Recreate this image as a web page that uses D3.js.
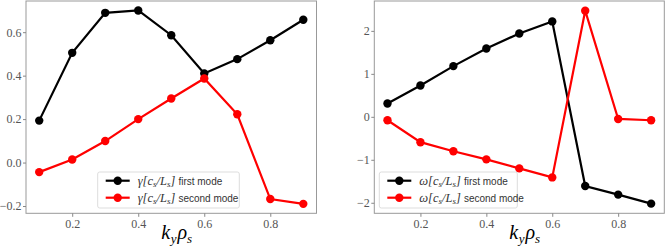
<!DOCTYPE html>
<html>
<head>
<meta charset="utf-8">
<script src="https://cdn.jsdelivr.net/npm/d3@7"></script>
<style>
  body { margin: 0; background: #fff; }
  svg { display: block; }
  .tick line { stroke: #888; }
  .domain { display: none; }
</style>
</head>
<body>
<script>
// Data
const ky = [0.1, 0.2, 0.3, 0.4, 0.5, 0.6, 0.7, 0.8, 0.9];
const gammaFirst = [0.193, 0.505, 0.689, 0.700, 0.586, 0.410, 0.476, 0.563, 0.657];
const gammaSecond = [-0.044, 0.014, 0.099, 0.200, 0.295, 0.387, 0.222, -0.168, -0.190];
const omegaFirst = [0.31, 0.73, 1.18, 1.59, 1.94, 2.22, -1.61, -1.81, -2.02];
const omegaSecond = [-0.08, -0.59, -0.80, -0.99, -1.20, -1.41, 2.47, -0.05, -0.08];

const xTicks = [0.2, 0.4, 0.6, 0.8];
const gammaTicks = [-0.2, 0.0, 0.2, 0.4, 0.6];
const omegaTicks = [-2, -1, 0, 1, 2];

const serif = '"Liberation Serif", "DejaVu Serif", serif';

const svg = d3.select('body')
  .append('svg')
  .attr('width', 665)
  .attr('height', 246);

// Draw one panel
function drawPanel(opts) {
  const x = d3.scaleLinear().domain([0.06, 0.94]).range([opts.left, opts.right]);
  const y = d3.scaleLinear().domain(opts.yDomain).range([opts.bottom, opts.top]);
  const g = svg.append('g');

  // frame
  g.append('rect')
    .attr('x', opts.left)
    .attr('y', opts.top)
    .attr('width', opts.right - opts.left)
    .attr('height', opts.bottom - opts.top)
    .attr('fill', 'none')
    .attr('stroke', '#999')
    .attr('stroke-width', 1);

  // axes
  const xa = g.append('g')
    .attr('transform', `translate(0,${opts.bottom})`)
    .call(d3.axisBottom(x).tickValues(xTicks).tickSize(3.5).tickPadding(3).tickFormat(d3.format('.1f')));

  const ya = g.append('g')
    .attr('transform', `translate(${opts.left},0)`)
    .call(d3.axisLeft(y).tickValues(opts.yTicks).tickSize(3).tickPadding(1.5)
      .tickFormat(d => (d < 0 ? '\u2212' : '') + opts.fmt(Math.abs(d))));

  [xa, ya].forEach(a => a
    .attr('font-family', serif)
    .attr('font-size', 12)
    .selectAll('text').attr('fill', '#555'));

  // x label
  const xl = g.append('text')
    .attr('x', (opts.left + opts.right) / 2 - 10)
    .attr('y', 239)
    .attr('font-family', serif)
    .attr('font-style', 'italic')
    .attr('font-size', 20);
  xl.append('tspan').text('k');
  xl.append('tspan').attr('dy', 4).attr('dx', 0.5).attr('font-size', 13).text('y');
  xl.append('tspan').attr('dy', -4).attr('dx', 1).text('\u03C1');
  xl.append('tspan').attr('dy', 4).attr('font-size', 13).text('s');

  // lines and markers
  const line = d3.line().x((d, i) => x(ky[i])).y(d => y(d));
  opts.series.forEach(s => {
    g.append('path')
      .datum(s.values)
      .attr('d', line)
      .attr('fill', 'none')
      .attr('stroke', s.color)
      .attr('stroke-width', 2.2);
    g.selectAll(null)
      .data(s.values)
      .enter()
      .append('circle')
      .attr('cx', (d, i) => x(ky[i]))
      .attr('cy', d => y(d))
      .attr('r', 4.2)
      .attr('fill', s.color);
  });

  // legend
  const lg = g.append('g');
  lg.append('rect')
    .attr('x', opts.legend.x)
    .attr('y', 172)
    .attr('width', opts.legend.w)
    .attr('height', 36)
    .attr('rx', 2)
    .attr('fill', 'rgba(255,255,255,0.85)')
    .attr('stroke', '#ddd');
  opts.series.forEach((s, i) => {
    const ry = 180.7 + i * 17;
    const lx = opts.legend.x + 8;
    lg.append('line')
      .attr('x1', lx).attr('x2', lx + 24)
      .attr('y1', ry).attr('y2', ry)
      .attr('stroke', s.color)
      .attr('stroke-width', 2.2);
    lg.append('circle')
      .attr('cx', lx + 12).attr('cy', ry).attr('r', 4.2)
      .attr('fill', s.color);
    const t = lg.append('text')
      .attr('x', lx + 32)
      .attr('y', ry + 4)
      .attr('font-size', 12.5)
      .attr('fill', '#333');
    const m = t.append('tspan')
      .attr('font-family', serif)
      .attr('font-style', 'italic');
    m.append('tspan').text(opts.sym + '[c');
    m.append('tspan').attr('dy', 2.5).attr('font-size', 9).text('s');
    m.append('tspan').attr('dy', -2.5).text('/L');
    m.append('tspan').attr('dy', 2.5).attr('font-size', 9).text('s');
    m.append('tspan').attr('dy', -2.5).text(']');
    t.append('tspan')
      .attr('dx', 3)
      .attr('font-family', '"Liberation Sans", Arial, sans-serif')
      .attr('font-size', 10)
      .text(s.label);
  });
}

drawPanel({
  left: 26, right: 316.5, top: 1, bottom: 213.3,
  yDomain: [-0.2335, 0.7435],
  yTicks: gammaTicks,
  fmt: d3.format('.1f'),
  sym: '\u03B3',
  legend: { x: 97.7, w: 141.6 },
  series: [
    { values: gammaFirst, color: '#000', label: 'first mode' },
    { values: gammaSecond, color: '#ff0000', label: 'second mode' }
  ]
});

drawPanel({
  left: 374.3, right: 664.3, top: 1, bottom: 213.3,
  yDomain: [-2.245, 2.695],
  yTicks: omegaTicks,
  fmt: d3.format('d'),
  sym: '\u03C9',
  legend: { x: 379.3, w: 138 },
  series: [
    { values: omegaFirst, color: '#000', label: 'first mode' },
    { values: omegaSecond, color: '#ff0000', label: 'second mode' }
  ]
});
</script>
</body>
</html>
